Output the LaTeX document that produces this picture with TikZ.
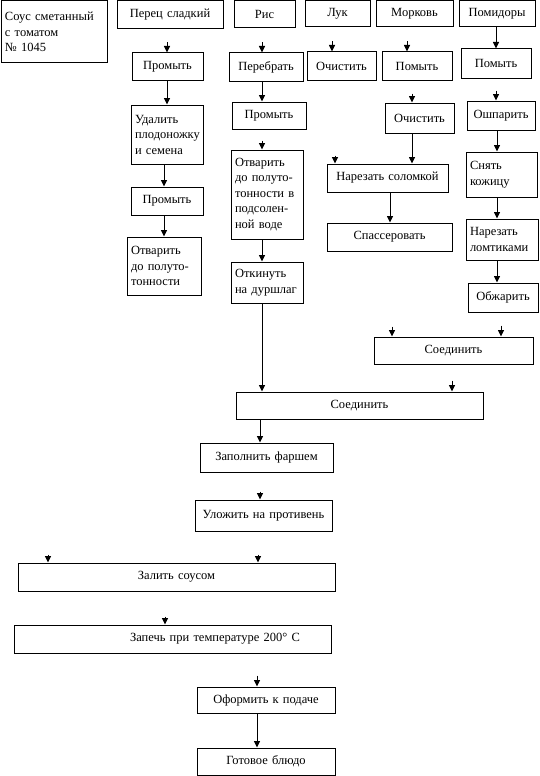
\documentclass[tikz,border=0pt]{standalone}
\usepackage{fontspec}
\setmainfont{Liberation Serif}
\usetikzlibrary{arrows.meta}
\begin{document}
\begin{tikzpicture}[x=1pt,y=-1pt,
  box/.style={draw, line width=1pt, inner sep=0pt, align=center,
    font=\fontsize{12.5}{15.5}\selectfont},
  rect/.style n args={4}{at={({(#1+#3)/2},{(#2+#4)/2})},
    minimum width={#3-#1}, minimum height={#4-#2}, text width={#3-#1-8}},
  lbox/.style={box, align=left},
  arr/.style={line width=0.9pt, -{Triangle[width=6pt,length=6.5pt]}},
]
\useasboundingbox (0,0) rectangle (539,776);

% top row
\node[lbox, rect={1}{1}{107}{63}] (sous) {Соус сметанный\\с томатом\\№ 1045};
\node[box, rect={117}{1}{223}{29}] (perec) {Перец сладкий};
\node[box, rect={234}{1}{295}{28}] (ris) {Рис};
\node[box, rect={305}{1}{370}{27}] (luk) {Лук};
\node[box, rect={376}{1}{453}{27}] (mork) {Морковь};
\node[box, rect={459}{1}{535}{27}] (pom) {Помидоры};

% second row
\node[box, rect={132}{53}{203}{80}] (pw1) {Промыть};
\node[box, rect={229}{53}{303}{81}] (rsort) {Перебрать};
\node[box, rect={307}{52}{376}{80}] (lcl) {Очистить};
\node[box, rect={382}{52}{452}{80}] (mw) {Помыть};
\node[box, rect={461}{49}{531}{78}] (tw) {Помыть};

% pepper
\node[lbox, rect={131}{105}{203}{164}] (prem) {Удалить\\плодоножку\\и семена};
\node[box, rect={131}{187}{203}{215}] (pw2) {Промыть};
\node[lbox, rect={127}{237}{201}{295}] (pboil) {Отварить\\до полуто-\\тонности};

% rice
\node[box, rect={232}{102}{306}{129}] (rw) {Промыть};
\node[lbox, rect={231}{150}{303}{239}] (rboil) {Отварить\\до полуто-\\тонности в\\подсолен-\\ной воде};
\node[lbox, rect={231}{262}{303}{303}] (rdr) {Откинуть\\на дуршлаг};

% carrot
\node[box, rect={385}{103}{454}{133}] (mcl) {Очистить};
\node[box, rect={327}{164}{448}{192}] (mcut) {Нарезать соломкой};
\node[box, rect={327}{223}{452}{251}] (msau) {Спассеровать};

% tomato
\node[box, rect={467}{101}{535}{130}] (tbl) {Ошпарить};
\node[lbox, rect={466}{152}{537}{197}] (tpeel) {Снять\\кожицу};
\node[lbox, rect={466}{219}{538}{260}] (tsl) {Нарезать\\ломтиками};
\node[box, rect={468}{283}{538}{312}] (tfry) {Обжарить};

% joins and final steps
\node[box, rect={374}{337}{533}{364}] (j1) {Соединить};
\node[box, rect={236}{392}{483}{419}] (j2) {Соединить};
\node[box, rect={200}{443}{333}{472}] (fill) {Заполнить фаршем};
\node[box, rect={195}{500}{332}{531}] (tray) {Уложить на противень};
\node[box, rect={18}{563}{335}{591}] (sauce) {Залить соусом};
\node[lbox, rect={14}{625}{331}{653}] (bake) {\hspace*{112pt}Запечь при температуре 200° С};
\node[box, rect={197}{687}{335}{713}] (serve) {Оформить к подаче};
\node[box, rect={197}{748}{335}{775}] (done) {Готовое блюдо};

% column x positions
\coordinate (xa) at (167,0);
\coordinate (xb) at (164,0);
\coordinate (xr) at (262,0);
\coordinate (xl) at (332,0);
\coordinate (xm) at (407,0);
\coordinate (xm2) at (412,0);
\coordinate (xm3) at (390,0);
\coordinate (xmc) at (335,0);
\coordinate (xt) at (496,0);
\coordinate (xt2) at (497,0);
\coordinate (xj1a) at (392,0);
\coordinate (xj1b) at (501,0);
\coordinate (xj2) at (452,0);
\coordinate (xc) at (260,0);
\coordinate (xs1) at (48,0);
\coordinate (xs2) at (258,0);
\coordinate (xk) at (165,0);
\coordinate (xf) at (257,0);

% free arrowheads
\draw[arr] ([yshift=10pt]xa |- pw1.north) -- (xa |- pw1.north);
\draw[arr] ([yshift=10pt]xr |- rsort.north) -- (xr |- rsort.north);
\draw[arr] ([yshift=10pt]xl |- lcl.north) -- (xl |- lcl.north);
\draw[arr] ([yshift=10pt]xm |- mw.north) -- (xm |- mw.north);
\draw[arr] ([yshift=9pt]xr |- rboil.north) -- (xr |- rboil.north);
\draw[arr] ([yshift=9pt]xm2 |- mcl.north) -- (xm2 |- mcl.north);
\draw[arr] ([yshift=10pt]xt |- tbl.north) -- (xt |- tbl.north);
\draw[arr] ([yshift=8pt]xmc |- mcut.north) -- (xmc |- mcut.north);
\draw[arr] ([yshift=10pt]xj1a |- j1.north) -- (xj1a |- j1.north);
\draw[arr] ([yshift=11pt]xj1b |- j1.north) -- (xj1b |- j1.north);
\draw[arr] ([yshift=11pt]xj2 |- j2.north) -- (xj2 |- j2.north);
\draw[arr] ([yshift=8pt]xc |- tray.north) -- (xc |- tray.north);
\draw[arr] ([yshift=8pt]xs1 |- sauce.north) -- (xs1 |- sauce.north);
\draw[arr] ([yshift=8pt]xs2 |- sauce.north) -- (xs2 |- sauce.north);
\draw[arr] ([yshift=8pt]xk |- bake.north) -- (xk |- bake.north);
\draw[arr] ([yshift=11pt]xf |- serve.north) -- (xf |- serve.north);

% connected arrows
\draw[arr] (xa |- pw1.south) -- (xa |- prem.north);
\draw[arr] (xb |- prem.south) -- (xb |- pw2.north);
\draw[arr] (xb |- pw2.south) -- (xb |- pboil.north);
\draw[arr] (xr |- rsort.south) -- (xr |- rw.north);
\draw[arr] (xr |- rboil.south) -- (xr |- rdr.north);
\draw[arr] (xr |- rdr.south) -- (xr |- j2.north);
\draw[arr] (xt |- pom.south) -- (xt |- tw.north);
\draw[arr] (xm2 |- mcl.south) -- (xm2 |- mcut.north);
\draw[arr] (xm3 |- mcut.south) -- (xm3 |- msau.north);
\draw[arr] (xt2 |- tbl.south) -- (xt2 |- tpeel.north);
\draw[arr] (xt2 |- tpeel.south) -- (xt2 |- tsl.north);
\draw[arr] (xt2 |- tsl.south) -- (xt2 |- tfry.north);
\draw[arr] (xc |- j2.south) -- (xc |- fill.north);
\draw[arr] (xf |- serve.south) -- (xf |- done.north);
\end{tikzpicture}
\end{document}
